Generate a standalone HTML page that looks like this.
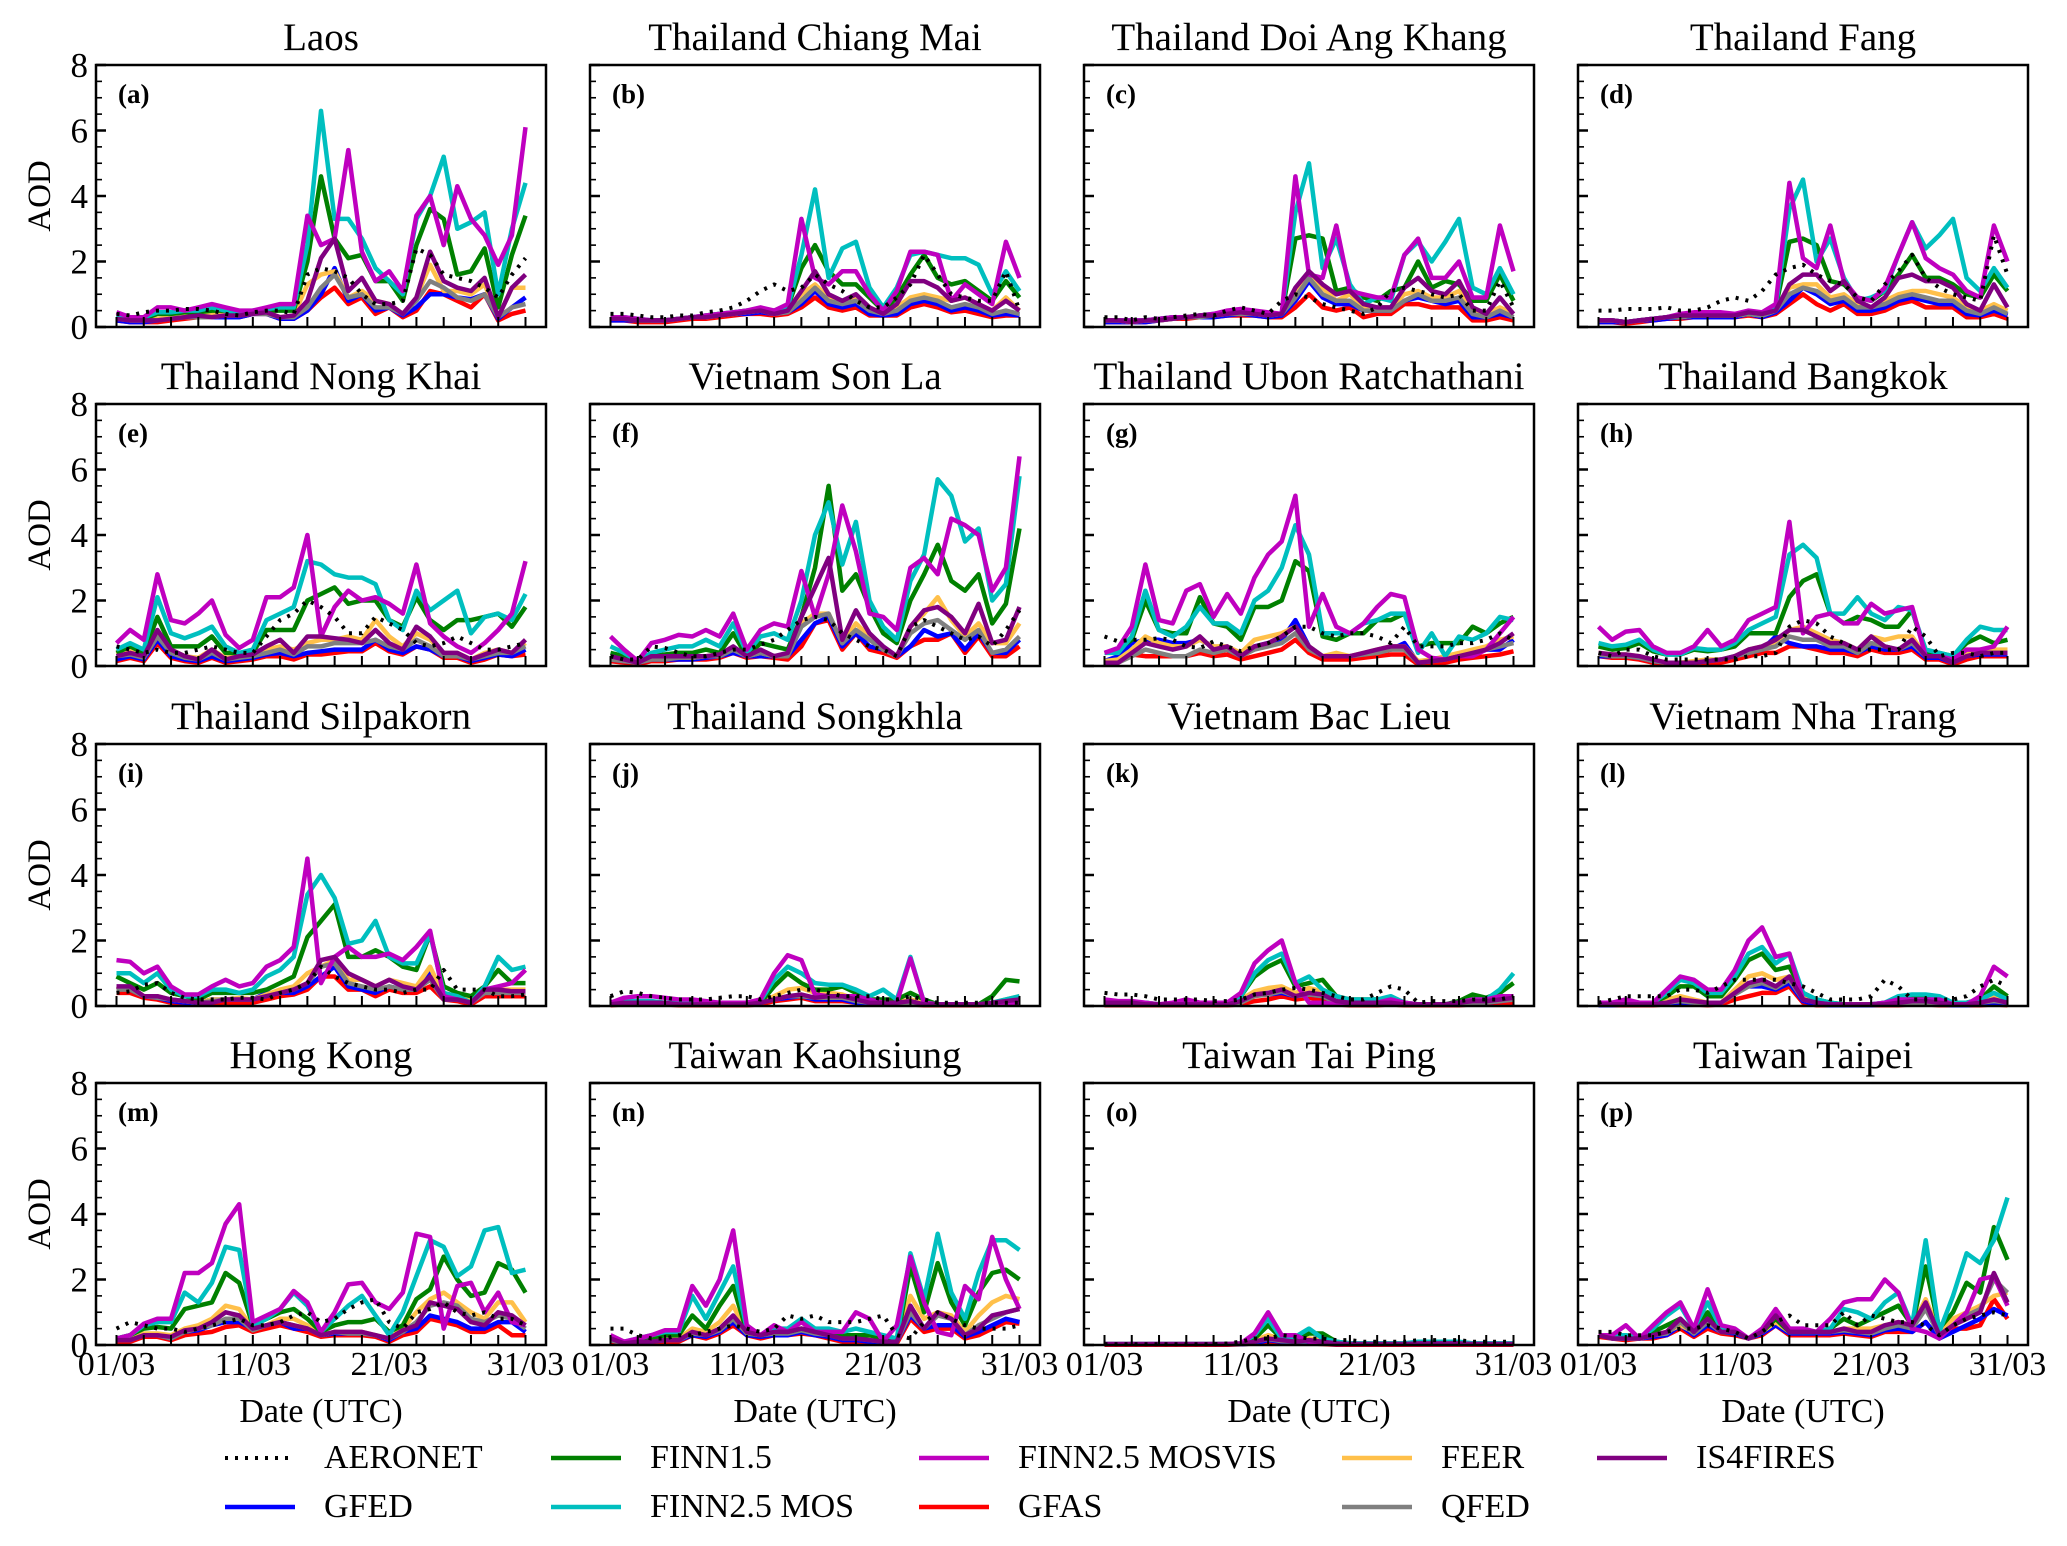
<!DOCTYPE html>
<html><head><meta charset="utf-8">
<style>
html,body{margin:0;padding:0;background:#fff;}
svg{display:block;font-family:"Liberation Serif","Times New Roman",serif;}
</style></head>
<body>
<svg id="fig" width="2067" height="1546" viewBox="0 0 2067 1546" xmlns="http://www.w3.org/2000/svg"></svg>
<script>
// ---------- data ----------
const panelTitles = ["Laos","Thailand Chiang Mai","Thailand Doi Ang Khang","Thailand Fang","Thailand Nong Khai","Vietnam Son La","Thailand Ubon Ratchathani","Thailand Bangkok","Thailand Silpakorn","Thailand Songkhla","Vietnam Bac Lieu","Vietnam Nha Trang","Hong Kong","Taiwan Kaohsiung","Taiwan Tai Ping","Taiwan Taipei"];
const panelLetters = ["(a)","(b)","(c)","(d)","(e)","(f)","(g)","(h)","(i)","(j)","(k)","(l)","(m)","(n)","(o)","(p)"];
const yTicks = [0,2,4,6,8];
const xTickDays = [1,11,21,31];
const xTickLabels = ["01/03","11/03","21/03","31/03"];

const aeronet = [
[0.4,0.35,0.45,0.5,0.5,0.55,0.55,0.5,0.4,0.35,0.45,0.5,0.5,0.4,1.6,1.8,1.7,1.5,1.0,0.7,0.7,0.8,2.4,2.2,1.6,1.5,1.4,1.2,0.9,1.6,2.1],
[0.4,0.4,0.35,0.3,0.3,0.35,0.35,0.45,0.5,0.6,0.8,1.1,1.3,1.1,1.2,1.6,1.3,1.1,0.8,0.6,0.6,0.9,1.3,2.2,1.6,1.0,0.9,0.8,0.8,1.7,0.5],
[0.3,0.3,0.2,0.3,0.25,0.3,0.35,0.4,0.35,0.5,0.6,0.5,0.4,0.8,1.0,0.9,0.7,0.6,0.5,0.4,0.6,1.1,1.2,1.1,1.0,0.9,1.0,0.5,0.5,1.4,0.6],
[0.5,0.5,0.55,0.55,0.55,0.6,0.5,0.5,0.6,0.8,0.9,0.8,1.1,1.6,1.8,1.9,1.6,1.4,1.3,0.9,0.8,1.3,1.7,2.2,1.5,1.2,1.0,0.9,0.8,2.8,1.6],
[0.6,0.5,0.4,0.5,0.4,0.4,0.5,0.6,0.5,0.4,0.4,0.9,1.4,1.6,2.0,1.8,1.5,1.0,1.0,1.5,1.3,1.1,0.7,0.6,0.7,0.9,0.7,0.5,0.5,0.6,0.7],
[0.3,0.2,0.2,0.6,0.55,0.4,0.3,0.3,0.4,0.5,0.5,0.65,0.8,1.1,1.4,1.5,1.4,1.0,0.8,0.6,0.5,0.3,1.2,1.4,1.2,1.0,0.8,0.9,0.6,1.1,1.7],
[0.9,0.75,0.8,0.8,0.85,0.8,0.6,0.55,0.75,0.6,0.45,0.6,0.7,0.9,1.2,1.2,1.0,0.9,1.0,1.0,0.9,0.7,1.2,0.6,0.6,0.6,0.7,0.7,0.8,1.0,0.8],
[0.4,0.3,0.5,0.5,0.3,0.2,0.2,0.2,0.2,0.2,0.2,0.3,0.3,0.4,1.2,1.4,1.3,0.9,0.7,0.5,0.5,0.5,0.5,1.2,0.9,0.3,0.4,0.4,0.3,0.4,0.4],
[0.4,0.45,0.65,0.7,0.4,0.25,0.2,0.2,0.2,0.25,0.25,0.2,0.4,0.5,0.7,1.2,0.9,0.7,0.6,0.5,0.5,0.4,0.5,0.5,1.1,0.5,0.5,0.5,0.3,0.3,0.35],
[0.3,0.45,0.4,0.3,0.25,0.2,0.2,0.2,0.25,0.3,0.3,0.2,0.3,0.4,0.5,0.5,0.4,0.3,0.3,0.3,0.2,0.2,0.3,0.2,0.1,0.1,0.1,0.1,0.1,0.1,0.1],
[0.4,0.35,0.35,0.3,0.2,0.2,0.2,0.2,0.15,0.15,0.2,0.35,0.4,0.5,0.55,0.5,0.4,0.3,0.2,0.2,0.4,0.6,0.5,0.1,0.15,0.15,0.15,0.2,0.2,0.2,0.3],
[0.1,0.2,0.3,0.3,0.3,0.3,0.5,0.5,0.4,0.6,0.8,0.8,0.8,0.8,0.7,0.6,0.4,0.2,0.2,0.2,0.3,0.8,0.6,0.2,0.2,0.2,0.2,0.3,0.6,0.8,0.6],
[0.5,0.7,0.6,0.5,0.5,0.4,0.5,0.6,0.7,0.8,0.6,0.6,0.7,0.9,1.0,0.7,0.8,1.1,1.3,1.4,0.7,0.5,1.0,1.1,1.3,1.0,0.9,1.0,0.8,0.8,0.6],
[0.5,0.5,0.3,0.2,0.2,0.3,0.3,0.4,0.5,0.6,0.5,0.4,0.5,0.9,0.8,0.9,0.7,0.7,0.7,0.8,0.9,0.3,0.2,0.7,1.0,0.8,0.6,0.5,0.5,0.5,0.6],
[0.02,0.02,0.02,0.02,0.02,0.02,0.02,0.02,0.02,0.05,0.1,0.2,0.2,0.3,0.25,0.2,0.2,0.15,0.15,0.1,0.1,0.1,0.1,0.15,0.15,0.15,0.15,0.1,0.1,0.1,0.1],
[0.4,0.4,0.3,0.3,0.3,0.4,0.5,0.5,0.6,0.5,0.4,0.2,0.4,0.7,0.9,0.6,0.6,0.6,1.0,0.6,0.9,0.8,0.7,0.7,0.6,0.3,0.6,0.8,0.9,1.0,0.9]];

const gfed = [
[0.2,0.15,0.15,0.2,0.25,0.3,0.3,0.3,0.3,0.3,0.4,0.4,0.25,0.25,0.5,1.0,1.8,0.8,1.0,0.5,0.6,0.35,0.6,1.0,1.0,0.9,0.85,1.0,0.25,0.6,0.9],
[0.2,0.2,0.2,0.2,0.2,0.25,0.3,0.3,0.35,0.4,0.4,0.45,0.4,0.45,0.7,1.1,0.7,0.6,0.7,0.4,0.35,0.4,0.7,0.8,0.7,0.5,0.6,0.5,0.35,0.4,0.35],
[0.15,0.15,0.15,0.15,0.2,0.25,0.3,0.3,0.3,0.35,0.4,0.35,0.3,0.35,0.8,1.4,0.9,0.7,0.7,0.5,0.5,0.5,0.8,0.9,0.8,0.7,0.8,0.3,0.3,0.4,0.3],
[0.15,0.15,0.15,0.2,0.2,0.25,0.3,0.3,0.3,0.3,0.3,0.4,0.3,0.45,0.8,1.2,1.0,0.7,0.8,0.5,0.5,0.6,0.8,0.9,0.8,0.7,0.7,0.4,0.35,0.5,0.35],
[0.2,0.3,0.2,0.8,0.3,0.2,0.15,0.3,0.15,0.2,0.25,0.35,0.4,0.3,0.4,0.45,0.5,0.5,0.5,0.8,0.5,0.4,0.6,0.5,0.3,0.3,0.15,0.25,0.35,0.3,0.5],
[0.2,0.15,0.1,0.2,0.2,0.2,0.2,0.25,0.3,0.4,0.3,0.3,0.3,0.3,0.8,1.3,1.5,0.6,1.0,0.6,0.5,0.3,0.6,1.1,0.9,1.0,0.5,1.0,0.4,0.4,0.8],
[0.15,0.3,0.7,0.8,0.8,0.7,0.7,0.8,0.6,0.5,0.3,0.6,0.7,0.8,1.4,0.6,0.3,0.3,0.3,0.35,0.45,0.5,0.7,0.1,0.15,0.2,0.3,0.35,0.5,0.5,0.8],
[0.3,0.3,0.3,0.25,0.15,0.1,0.1,0.1,0.15,0.2,0.3,0.4,0.5,0.9,0.7,0.6,0.6,0.5,0.5,0.4,0.6,0.5,0.5,0.6,0.25,0.25,0.1,0.3,0.35,0.35,0.35],
[0.6,0.5,0.3,0.25,0.15,0.1,0.1,0.2,0.2,0.2,0.2,0.4,0.4,0.4,0.6,0.9,1.2,0.6,0.5,0.4,0.6,0.5,0.5,1.0,0.2,0.2,0.1,0.4,0.4,0.4,0.4],
[0.05,0.1,0.1,0.1,0.05,0.05,0.05,0.05,0.05,0.05,0.05,0.1,0.2,0.25,0.3,0.2,0.2,0.2,0.1,0.05,0.05,0.05,0.1,0.05,0.05,0.05,0.05,0.05,0.05,0.1,0.15],
[0.05,0.05,0.05,0.05,0.05,0.05,0.05,0.05,0.05,0.05,0.1,0.4,0.35,0.4,0.3,0.35,0.3,0.1,0.05,0.05,0.05,0.1,0.05,0.05,0.05,0.05,0.05,0.1,0.1,0.15,0.2],
[0.02,0.02,0.05,0.05,0.05,0.1,0.1,0.1,0.05,0.1,0.4,0.6,0.6,0.5,0.7,0.15,0.05,0.02,0.02,0.02,0.02,0.05,0.05,0.1,0.1,0.05,0.02,0.02,0.05,0.1,0.05],
[0.15,0.15,0.3,0.3,0.2,0.4,0.45,0.6,0.7,0.7,0.5,0.6,0.7,0.5,0.5,0.3,0.35,0.35,0.35,0.3,0.15,0.4,0.5,0.9,0.8,0.7,0.5,0.5,0.7,0.7,0.4],
[0.15,0.05,0.1,0.1,0.15,0.15,0.3,0.25,0.4,0.7,0.3,0.25,0.3,0.3,0.4,0.3,0.25,0.15,0.15,0.1,0.05,0.1,0.9,0.5,0.6,0.6,0.25,0.4,0.6,0.8,0.7],
[0.02,0.02,0.02,0.02,0.02,0.02,0.02,0.02,0.02,0.02,0.02,0.05,0.15,0.1,0.1,0.1,0.05,0.02,0.02,0.02,0.02,0.02,0.02,0.03,0.03,0.03,0.03,0.02,0.02,0.02,0.02],
[0.3,0.2,0.2,0.2,0.25,0.3,0.6,0.3,0.6,0.4,0.35,0.2,0.35,0.6,0.35,0.35,0.35,0.35,0.4,0.35,0.3,0.45,0.5,0.4,0.7,0.2,0.4,0.6,0.8,1.1,0.9]];

const finn15 = [
[0.3,0.25,0.25,0.4,0.4,0.45,0.45,0.5,0.5,0.4,0.45,0.5,0.5,0.5,2.0,4.6,2.7,2.1,2.2,1.4,1.4,0.8,2.5,3.6,3.3,1.6,1.7,2.4,0.6,2.2,3.4],
[0.25,0.25,0.2,0.2,0.2,0.25,0.3,0.35,0.4,0.45,0.5,0.5,0.45,0.6,1.8,2.5,1.7,1.3,1.3,0.9,0.5,0.9,1.6,2.2,1.5,1.3,1.4,1.1,0.8,1.4,0.9],
[0.2,0.2,0.2,0.2,0.25,0.3,0.3,0.35,0.35,0.45,0.5,0.45,0.4,0.4,2.7,2.8,2.7,1.1,1.2,0.9,0.8,1.1,1.2,2.0,1.2,1.4,1.3,0.8,0.8,1.6,0.8],
[0.2,0.2,0.15,0.2,0.25,0.3,0.35,0.35,0.35,0.35,0.35,0.45,0.4,0.6,2.6,2.7,2.5,1.4,1.3,0.9,0.8,1.1,1.6,2.2,1.5,1.5,1.3,1.0,0.9,1.6,1.1],
[0.4,0.6,0.4,1.5,0.6,0.6,0.6,0.9,0.4,0.4,0.4,1.1,1.1,1.1,2.0,2.2,2.4,1.9,2.0,2.0,1.4,1.2,2.1,1.4,1.1,1.4,1.4,1.5,1.6,1.2,1.8],
[0.4,0.3,0.15,0.3,0.35,0.4,0.4,0.5,0.4,1.0,0.3,0.7,0.6,0.5,1.5,3.0,5.5,2.3,2.8,1.8,1.0,0.7,2.0,2.8,3.7,2.6,2.3,2.8,1.3,1.9,4.2],
[0.4,0.5,0.8,2.0,1.1,1.0,1.0,2.1,1.3,1.2,0.8,1.8,1.8,2.0,3.2,2.9,0.9,0.8,1.0,1.0,1.4,1.4,1.6,0.6,0.7,0.7,0.7,1.2,1.0,1.3,1.5],
[0.6,0.5,0.55,0.7,0.45,0.35,0.35,0.5,0.45,0.5,0.6,1.0,1.0,1.0,2.1,2.6,2.8,1.6,1.3,1.5,1.4,1.2,1.2,1.7,0.4,0.4,0.3,0.7,0.9,0.7,0.8],
[0.9,0.7,0.5,0.7,0.4,0.3,0.2,0.4,0.4,0.4,0.4,0.5,0.7,0.9,2.1,2.6,3.1,1.5,1.5,1.7,1.5,1.2,1.1,2.2,0.6,0.4,0.3,0.6,1.1,0.7,0.7],
[0.1,0.1,0.1,0.1,0.1,0.1,0.1,0.05,0.05,0.05,0.05,0.1,0.6,1.0,0.7,0.5,0.5,0.6,0.4,0.2,0.2,0.2,0.4,0.2,0.05,0.05,0.05,0.05,0.3,0.8,0.75],
[0.1,0.1,0.1,0.1,0.05,0.05,0.05,0.05,0.05,0.05,0.3,0.9,1.2,1.4,0.6,0.7,0.8,0.3,0.2,0.2,0.2,0.2,0.1,0.05,0.05,0.05,0.15,0.35,0.25,0.4,0.7],
[0.05,0.05,0.1,0.1,0.1,0.3,0.6,0.6,0.3,0.3,0.8,1.4,1.6,1.1,1.2,0.4,0.2,0.1,0.05,0.05,0.05,0.1,0.2,0.25,0.25,0.2,0.1,0.1,0.2,0.6,0.3],
[0.2,0.3,0.5,0.55,0.5,1.1,1.2,1.3,2.2,1.9,0.6,0.8,1.0,1.1,0.8,0.4,0.6,0.7,0.7,0.8,0.4,0.6,1.4,1.7,2.7,2.0,1.5,1.6,2.5,2.3,1.6],
[0.2,0.1,0.15,0.2,0.3,0.3,0.9,0.5,1.2,1.8,0.4,0.3,0.4,0.4,0.5,0.4,0.4,0.3,0.3,0.3,0.2,0.1,2.4,1.0,2.5,1.3,0.6,1.6,2.2,2.3,2.0],
[0.03,0.03,0.03,0.03,0.03,0.03,0.03,0.03,0.03,0.03,0.05,0.2,0.6,0.2,0.2,0.35,0.35,0.1,0.05,0.05,0.05,0.05,0.05,0.08,0.08,0.08,0.08,0.05,0.05,0.05,0.05],
[0.3,0.3,0.3,0.2,0.4,0.6,0.8,0.4,1.0,0.4,0.4,0.2,0.4,0.8,0.4,0.4,0.4,0.5,0.8,0.6,0.8,1.0,1.2,0.6,2.4,0.5,1.0,1.9,1.6,3.6,2.6]];

const finn25mos = [
[0.35,0.25,0.3,0.45,0.45,0.5,0.5,0.6,0.5,0.45,0.5,0.55,0.6,0.6,2.5,6.6,3.3,3.3,2.7,1.8,1.4,1.0,3.3,4.0,5.2,3.0,3.2,3.5,1.0,3.0,4.4],
[0.3,0.3,0.25,0.2,0.2,0.25,0.3,0.35,0.4,0.45,0.5,0.55,0.5,0.6,2.2,4.2,1.5,2.4,2.6,1.2,0.6,1.2,2.2,2.3,2.2,2.1,2.1,1.9,1.0,1.7,1.1],
[0.2,0.2,0.2,0.2,0.25,0.3,0.3,0.35,0.4,0.45,0.5,0.45,0.4,0.4,3.5,5.0,1.8,2.7,1.3,0.7,0.9,0.8,2.2,2.6,2.0,2.6,3.3,1.2,1.0,1.8,1.0],
[0.2,0.2,0.15,0.2,0.25,0.3,0.35,0.4,0.4,0.4,0.35,0.45,0.4,0.6,3.6,4.5,2.0,2.7,1.5,0.8,0.9,1.1,2.2,3.2,2.4,2.8,3.3,1.5,1.1,1.8,1.2],
[0.5,0.7,0.5,2.1,1.0,0.85,1.0,1.2,0.6,0.4,0.5,1.4,1.6,1.8,3.2,3.1,2.8,2.7,2.7,2.5,1.4,1.1,2.3,1.7,2.0,2.3,1.0,1.5,1.6,1.4,2.2],
[0.6,0.4,0.15,0.4,0.5,0.6,0.6,0.8,0.6,1.3,0.4,0.9,1.0,0.8,2.0,4.0,5.0,3.1,4.4,2.0,1.2,0.8,2.6,3.4,5.7,5.2,3.8,4.2,2.0,2.5,5.8],
[0.4,0.4,0.9,2.3,1.1,0.9,1.2,1.8,1.3,1.3,1.0,2.0,2.3,3.0,4.3,3.4,1.0,1.0,1.0,1.3,1.4,1.6,1.6,0.4,1.0,0.3,0.9,0.8,1.0,1.5,1.4],
[0.7,0.6,0.65,0.8,0.5,0.35,0.35,0.55,0.5,0.5,0.7,1.1,1.3,1.5,3.4,3.7,3.3,1.6,1.6,2.1,1.6,1.4,1.8,1.7,0.5,0.4,0.3,0.8,1.2,1.1,1.1],
[1.0,1.0,0.7,1.0,0.5,0.3,0.3,0.5,0.5,0.4,0.5,0.9,1.1,1.5,3.4,4.0,3.3,1.9,2.0,2.6,1.5,1.3,1.3,2.2,0.4,0.3,0.1,0.6,1.5,1.1,1.2],
[0.1,0.15,0.15,0.15,0.1,0.1,0.1,0.1,0.05,0.05,0.05,0.15,0.8,1.2,1.0,0.7,0.65,0.65,0.5,0.3,0.5,0.2,1.5,0.1,0.05,0.05,0.05,0.05,0.1,0.2,0.3],
[0.1,0.1,0.1,0.1,0.05,0.05,0.05,0.05,0.05,0.05,0.3,1.0,1.4,1.6,0.7,0.9,0.5,0.3,0.2,0.2,0.2,0.3,0.1,0.05,0.05,0.05,0.1,0.2,0.2,0.5,1.0],
[0.05,0.05,0.1,0.1,0.1,0.4,0.8,0.7,0.4,0.4,0.9,1.6,1.8,1.3,1.6,0.4,0.2,0.1,0.05,0.05,0.05,0.1,0.3,0.35,0.35,0.3,0.1,0.1,0.2,0.4,0.2],
[0.2,0.3,0.6,0.7,0.7,1.6,1.3,1.9,3.0,2.9,0.6,0.8,1.1,1.6,1.2,0.4,0.8,1.2,1.5,0.9,0.3,1.0,2.1,3.2,3.0,2.1,2.4,3.5,3.6,2.2,2.3],
[0.25,0.1,0.2,0.3,0.4,0.4,1.5,0.8,1.6,2.4,0.5,0.3,0.5,0.5,0.8,0.5,0.5,0.4,0.5,0.4,0.3,0.2,2.8,1.4,3.4,1.6,0.8,2.2,3.2,3.2,2.9],
[0.03,0.03,0.03,0.03,0.03,0.03,0.03,0.03,0.03,0.03,0.05,0.3,0.8,0.2,0.25,0.5,0.2,0.1,0.05,0.05,0.05,0.05,0.05,0.1,0.1,0.1,0.1,0.05,0.05,0.05,0.05],
[0.3,0.3,0.3,0.2,0.5,0.9,1.2,0.5,1.3,0.5,0.4,0.2,0.4,1.0,0.5,0.4,0.4,0.5,1.1,1.0,0.8,1.3,1.6,0.6,3.2,0.4,1.5,2.8,2.5,3.2,4.5]];

const finn25mosvis = [
[0.45,0.3,0.3,0.6,0.6,0.5,0.6,0.7,0.6,0.5,0.5,0.6,0.7,0.7,3.4,2.5,2.7,5.4,2.3,1.4,1.7,1.1,3.4,4.0,2.5,4.3,3.3,2.8,1.9,2.8,6.1],
[0.3,0.3,0.25,0.2,0.2,0.25,0.3,0.35,0.4,0.45,0.5,0.6,0.5,0.7,3.3,1.5,1.3,1.7,1.7,1.0,0.5,1.1,2.3,2.3,2.2,0.8,1.3,1.0,0.7,2.6,1.5],
[0.2,0.2,0.2,0.2,0.25,0.3,0.3,0.35,0.4,0.5,0.55,0.5,0.45,0.4,4.6,1.6,1.5,3.1,1.1,1.0,0.9,0.9,2.2,2.7,1.5,1.5,2.0,0.9,0.9,3.1,1.7],
[0.2,0.2,0.15,0.2,0.25,0.3,0.4,0.45,0.45,0.45,0.4,0.5,0.45,0.7,4.4,2.1,1.8,3.1,1.4,0.9,0.8,1.2,2.2,3.2,2.1,1.8,1.6,1.1,0.9,3.1,2.0],
[0.7,1.1,0.8,2.8,1.4,1.3,1.6,2.0,0.95,0.55,0.8,2.1,2.1,2.4,4.0,0.9,1.8,2.3,2.0,2.1,1.9,1.6,3.1,1.3,0.9,0.6,0.4,0.7,1.1,1.6,3.2],
[0.9,0.5,0.15,0.7,0.8,0.95,0.9,1.1,0.9,1.6,0.5,1.1,1.3,1.2,2.9,1.5,2.8,4.9,3.5,1.6,1.5,1.1,3.0,3.3,2.8,4.5,4.3,4.0,2.3,3.0,6.4],
[0.4,0.55,1.2,3.1,1.4,1.3,2.3,2.5,1.5,2.2,1.6,2.7,3.4,3.8,5.2,1.2,2.2,1.2,1.0,1.3,1.8,2.2,2.1,0.5,0.25,0.2,0.3,0.3,0.5,1.0,1.5],
[1.2,0.8,1.05,1.1,0.6,0.4,0.4,0.6,1.1,0.6,0.8,1.4,1.6,1.8,4.4,1.0,1.5,1.6,1.3,1.3,1.9,1.6,1.7,1.8,0.3,0.3,0.2,0.5,0.5,0.6,1.2],
[1.4,1.35,1.0,1.2,0.6,0.35,0.35,0.6,0.8,0.6,0.7,1.2,1.4,1.8,4.5,0.7,1.5,1.8,1.5,1.5,1.6,1.4,1.8,2.3,0.3,0.2,0.1,0.5,0.6,0.7,1.1],
[0.1,0.25,0.3,0.3,0.25,0.2,0.2,0.15,0.1,0.1,0.1,0.2,1.0,1.55,1.4,0.35,0.3,0.3,0.3,0.2,0.1,0.1,1.45,0.1,0.05,0.05,0.05,0.05,0.05,0.05,0.1],
[0.2,0.15,0.15,0.1,0.05,0.1,0.2,0.1,0.1,0.1,0.4,1.3,1.7,2.0,0.7,0.1,0.1,0.05,0.05,0.1,0.1,0.2,0.1,0.05,0.05,0.05,0.1,0.2,0.2,0.3,0.3],
[0.1,0.1,0.2,0.1,0.1,0.5,0.9,0.8,0.5,0.5,1.1,2.0,2.4,1.5,1.6,0.2,0.1,0.05,0.05,0.05,0.05,0.1,0.2,0.2,0.2,0.2,0.05,0.05,0.3,1.2,0.9],
[0.2,0.3,0.65,0.8,0.8,2.2,2.2,2.5,3.7,4.3,0.7,0.9,1.1,1.65,1.3,0.4,1.0,1.85,1.9,1.3,1.1,1.6,3.4,3.3,0.5,1.8,1.9,1.0,1.6,0.7,0.6],
[0.3,0.1,0.2,0.3,0.45,0.45,1.8,1.2,2.0,3.5,0.6,0.3,0.6,0.4,0.7,0.4,0.4,0.4,1.0,0.8,0.1,0.6,2.7,1.3,0.4,0.3,1.8,1.4,3.3,2.0,1.1],
[0.03,0.03,0.03,0.03,0.03,0.03,0.03,0.03,0.03,0.03,0.05,0.35,1.0,0.3,0.3,0.1,0.05,0.03,0.03,0.03,0.03,0.03,0.03,0.03,0.03,0.03,0.03,0.03,0.03,0.03,0.03],
[0.3,0.3,0.6,0.2,0.6,1.0,1.3,0.5,1.7,0.6,0.5,0.2,0.5,1.1,0.5,0.5,0.4,0.8,1.3,1.4,1.4,2.0,1.6,0.5,0.4,0.2,0.6,1.0,2.0,2.1,1.2]];

const gfas = [
[0.2,0.15,0.15,0.15,0.2,0.25,0.3,0.3,0.3,0.3,0.4,0.4,0.25,0.25,0.5,0.9,1.2,0.7,0.9,0.4,0.6,0.3,0.5,1.1,1.0,0.8,0.6,1.0,0.2,0.4,0.5],
[0.2,0.2,0.15,0.15,0.15,0.2,0.25,0.25,0.3,0.35,0.4,0.4,0.35,0.4,0.6,0.9,0.6,0.5,0.6,0.35,0.35,0.35,0.6,0.7,0.6,0.45,0.5,0.4,0.3,0.35,0.35],
[0.15,0.15,0.15,0.15,0.2,0.25,0.25,0.3,0.3,0.35,0.35,0.35,0.3,0.3,0.6,1.0,0.6,0.5,0.6,0.3,0.4,0.4,0.7,0.7,0.6,0.6,0.6,0.2,0.2,0.3,0.2],
[0.15,0.15,0.1,0.15,0.2,0.25,0.25,0.3,0.3,0.3,0.3,0.35,0.3,0.4,0.7,1.0,0.7,0.5,0.7,0.4,0.4,0.5,0.7,0.8,0.6,0.6,0.6,0.3,0.3,0.4,0.25],
[0.15,0.25,0.15,0.7,0.25,0.15,0.1,0.25,0.1,0.15,0.2,0.3,0.3,0.2,0.35,0.35,0.4,0.45,0.45,0.7,0.45,0.35,0.6,0.5,0.25,0.25,0.1,0.2,0.35,0.3,0.35],
[0.15,0.1,0.05,0.15,0.15,0.2,0.2,0.2,0.25,0.4,0.25,0.3,0.25,0.2,0.6,1.3,1.4,0.5,1.0,0.5,0.4,0.25,0.6,0.8,0.8,1.0,0.4,0.9,0.3,0.3,0.6],
[0.05,0.1,0.35,0.3,0.3,0.3,0.3,0.4,0.3,0.35,0.2,0.3,0.4,0.5,0.8,0.4,0.2,0.2,0.2,0.25,0.3,0.35,0.35,0.05,0.1,0.1,0.2,0.25,0.3,0.35,0.45],
[0.3,0.25,0.25,0.2,0.1,0.05,0.05,0.05,0.1,0.1,0.2,0.3,0.4,0.4,0.6,0.6,0.5,0.4,0.4,0.3,0.5,0.4,0.4,0.5,0.2,0.2,0.05,0.2,0.3,0.3,0.3],
[0.4,0.4,0.25,0.2,0.1,0.05,0.05,0.1,0.1,0.1,0.1,0.2,0.3,0.35,0.5,0.9,0.9,0.5,0.5,0.3,0.5,0.4,0.4,0.6,0.2,0.15,0.05,0.3,0.3,0.3,0.3],
[0.02,0.05,0.05,0.05,0.05,0.02,0.02,0.02,0.02,0.02,0.02,0.05,0.15,0.2,0.25,0.15,0.15,0.15,0.1,0.05,0.05,0.05,0.05,0.02,0.02,0.02,0.02,0.02,0.05,0.1,0.1],
[0.02,0.02,0.02,0.02,0.02,0.02,0.02,0.02,0.02,0.02,0.05,0.15,0.2,0.3,0.2,0.25,0.2,0.05,0.02,0.02,0.02,0.05,0.02,0.02,0.02,0.02,0.02,0.05,0.05,0.05,0.1],
[0.02,0.02,0.02,0.02,0.02,0.05,0.05,0.05,0.02,0.05,0.2,0.3,0.4,0.4,0.6,0.1,0.02,0.02,0.02,0.02,0.02,0.02,0.02,0.05,0.05,0.02,0.02,0.02,0.02,0.05,0.02],
[0.1,0.1,0.25,0.25,0.15,0.3,0.35,0.4,0.55,0.6,0.4,0.5,0.6,0.5,0.4,0.25,0.3,0.3,0.3,0.25,0.1,0.3,0.4,0.8,0.7,0.6,0.4,0.4,0.6,0.3,0.3],
[0.1,0.05,0.05,0.1,0.1,0.1,0.3,0.2,0.35,0.6,0.3,0.2,0.3,0.3,0.35,0.3,0.2,0.1,0.1,0.05,0.05,0.05,0.8,0.4,0.5,0.5,0.2,0.3,0.5,0.7,0.65],
[0.01,0.01,0.01,0.01,0.01,0.01,0.01,0.01,0.01,0.01,0.02,0.05,0.1,0.05,0.05,0.05,0.03,0.01,0.01,0.01,0.01,0.01,0.01,0.01,0.01,0.01,0.01,0.01,0.01,0.01,0.01],
[0.25,0.2,0.15,0.2,0.2,0.3,0.5,0.25,0.5,0.35,0.3,0.2,0.3,0.6,0.3,0.3,0.3,0.3,0.35,0.3,0.25,0.4,0.4,0.4,0.7,0.2,0.5,0.5,0.6,1.4,0.8]];

const feer = [
[0.3,0.2,0.2,0.25,0.3,0.35,0.35,0.4,0.4,0.4,0.45,0.45,0.3,0.35,1.3,1.6,1.7,0.9,1.1,0.8,0.7,0.4,0.9,1.9,1.1,1.1,1.0,1.3,0.3,1.2,1.2],
[0.3,0.3,0.2,0.2,0.2,0.25,0.3,0.3,0.35,0.4,0.45,0.5,0.4,0.5,1.0,1.3,0.9,0.8,0.9,0.6,0.4,0.6,0.9,1.0,0.9,0.8,0.9,0.7,0.5,0.9,0.5],
[0.2,0.2,0.15,0.2,0.2,0.25,0.3,0.35,0.35,0.4,0.45,0.4,0.35,0.4,1.1,1.6,1.2,0.8,1.0,0.6,0.6,0.6,1.0,1.1,0.9,0.9,1.1,0.5,0.4,0.6,0.4],
[0.2,0.2,0.15,0.2,0.25,0.3,0.3,0.35,0.35,0.35,0.35,0.4,0.35,0.5,1.2,1.3,1.3,0.9,1.0,0.7,0.6,0.8,1.0,1.1,1.1,1.0,0.9,0.6,0.5,0.7,0.5],
[0.35,0.5,0.3,1.0,0.5,0.3,0.25,0.5,0.25,0.3,0.3,0.5,0.6,0.5,0.7,0.8,0.8,0.9,0.8,1.4,0.9,0.6,1.0,0.8,0.4,0.4,0.2,0.4,0.5,0.4,0.7],
[0.25,0.2,0.1,0.25,0.25,0.25,0.25,0.3,0.35,0.5,0.3,0.4,0.3,0.35,1.3,1.6,1.6,0.7,1.3,0.9,0.5,0.3,1.2,1.6,2.1,1.4,0.9,1.3,0.7,0.7,1.3],
[0.15,0.2,0.5,0.9,0.7,0.6,0.6,0.8,0.6,0.6,0.4,0.8,0.9,1.0,1.2,0.6,0.3,0.4,0.3,0.4,0.5,0.6,0.6,0.15,0.2,0.3,0.4,0.5,0.6,0.8,0.9],
[0.4,0.35,0.35,0.3,0.2,0.1,0.1,0.15,0.2,0.2,0.3,0.5,0.6,0.7,1.1,1.2,1.0,0.8,0.7,0.5,0.9,0.8,0.9,0.9,0.3,0.3,0.15,0.4,0.5,0.5,0.5],
[0.5,0.6,0.3,0.3,0.2,0.15,0.1,0.2,0.2,0.25,0.2,0.35,0.5,0.6,1.0,1.2,1.4,0.8,0.8,0.6,0.8,0.7,0.6,1.2,0.3,0.3,0.2,0.4,0.5,0.5,0.5],
[0.05,0.1,0.1,0.1,0.1,0.05,0.05,0.05,0.05,0.05,0.05,0.1,0.3,0.5,0.55,0.4,0.4,0.35,0.2,0.15,0.1,0.1,0.2,0.1,0.05,0.05,0.05,0.05,0.1,0.2,0.3],
[0.1,0.1,0.1,0.05,0.05,0.05,0.05,0.05,0.05,0.05,0.2,0.45,0.55,0.6,0.4,0.55,0.45,0.2,0.15,0.1,0.1,0.15,0.1,0.05,0.05,0.05,0.1,0.15,0.15,0.2,0.3],
[0.05,0.05,0.05,0.05,0.05,0.2,0.3,0.2,0.1,0.1,0.5,0.9,1.0,0.8,0.9,0.3,0.1,0.05,0.05,0.05,0.05,0.05,0.1,0.1,0.1,0.1,0.05,0.05,0.1,0.3,0.1],
[0.2,0.2,0.35,0.35,0.3,0.5,0.6,0.8,1.2,1.1,0.5,0.6,0.8,0.8,0.6,0.3,0.4,0.4,0.4,0.3,0.2,0.5,1.0,1.4,1.6,1.3,1.0,0.8,1.3,1.3,0.7],
[0.2,0.1,0.1,0.15,0.2,0.2,0.5,0.4,0.7,1.2,0.4,0.3,0.4,0.4,0.5,0.4,0.4,0.3,0.3,0.2,0.1,0.1,1.5,0.8,1.0,0.9,0.4,0.9,1.3,1.5,1.4],
[0.03,0.03,0.03,0.03,0.03,0.03,0.03,0.03,0.03,0.03,0.05,0.15,0.3,0.2,0.15,0.2,0.15,0.05,0.03,0.03,0.03,0.03,0.03,0.05,0.05,0.05,0.05,0.03,0.03,0.03,0.03],
[0.3,0.25,0.2,0.2,0.3,0.4,0.6,0.4,0.7,0.4,0.4,0.2,0.4,0.7,0.4,0.4,0.4,0.4,0.5,0.5,0.5,0.6,0.7,0.6,1.4,0.4,0.8,1.0,1.2,1.5,1.6]];

const qfed = [
[0.25,0.2,0.2,0.2,0.25,0.3,0.3,0.3,0.35,0.35,0.4,0.4,0.3,0.3,0.6,1.2,1.6,0.9,1.0,0.6,0.6,0.4,0.8,1.4,1.2,0.9,0.8,1.0,0.3,0.6,0.7],
[0.25,0.25,0.2,0.2,0.2,0.25,0.3,0.3,0.35,0.4,0.45,0.5,0.4,0.45,0.8,1.2,0.8,0.7,0.8,0.5,0.4,0.5,0.8,0.9,0.8,0.6,0.7,0.6,0.4,0.5,0.4],
[0.2,0.2,0.15,0.2,0.2,0.25,0.3,0.3,0.35,0.4,0.4,0.4,0.35,0.4,0.9,1.5,1.0,0.8,0.8,0.5,0.5,0.5,0.8,1.0,0.8,0.8,0.9,0.4,0.3,0.5,0.3],
[0.2,0.2,0.15,0.2,0.25,0.3,0.3,0.35,0.35,0.35,0.35,0.4,0.35,0.5,1.0,1.2,1.1,0.8,0.9,0.6,0.6,0.7,0.9,1.0,0.9,0.8,0.8,0.5,0.4,0.6,0.4],
[0.3,0.35,0.25,0.9,0.4,0.25,0.2,0.4,0.2,0.25,0.3,0.4,0.5,0.35,0.6,0.6,0.7,0.7,0.7,0.8,0.6,0.5,0.8,0.6,0.3,0.3,0.2,0.3,0.4,0.4,0.6],
[0.2,0.15,0.1,0.2,0.2,0.25,0.25,0.3,0.3,0.5,0.3,0.4,0.3,0.3,1.2,1.5,1.6,0.7,1.1,0.8,0.5,0.3,1.0,1.3,1.4,1.1,0.8,1.1,0.4,0.5,0.9],
[0.1,0.1,0.3,0.5,0.4,0.3,0.3,0.5,0.4,0.5,0.3,0.5,0.6,0.7,1.0,0.5,0.3,0.3,0.3,0.35,0.4,0.5,0.5,0.1,0.15,0.2,0.3,0.35,0.5,0.6,0.7],
[0.35,0.3,0.3,0.25,0.15,0.1,0.1,0.1,0.15,0.2,0.3,0.4,0.5,0.6,0.9,0.8,0.8,0.6,0.6,0.4,0.7,0.6,0.5,0.7,0.3,0.3,0.1,0.3,0.4,0.4,0.4],
[0.5,0.5,0.3,0.25,0.2,0.15,0.1,0.15,0.2,0.2,0.2,0.3,0.4,0.5,0.7,1.2,1.3,0.7,0.6,0.5,0.6,0.5,0.5,0.8,0.2,0.2,0.1,0.4,0.4,0.4,0.4],
[0.05,0.1,0.1,0.1,0.05,0.05,0.05,0.05,0.05,0.05,0.05,0.1,0.2,0.3,0.3,0.25,0.25,0.25,0.15,0.1,0.1,0.1,0.1,0.05,0.05,0.05,0.05,0.05,0.1,0.15,0.2],
[0.05,0.05,0.05,0.05,0.05,0.05,0.05,0.05,0.05,0.05,0.1,0.3,0.35,0.45,0.3,0.35,0.3,0.1,0.1,0.1,0.1,0.1,0.05,0.05,0.05,0.05,0.1,0.1,0.1,0.15,0.2],
[0.05,0.05,0.05,0.05,0.05,0.1,0.15,0.1,0.1,0.1,0.35,0.6,0.7,0.55,0.8,0.2,0.1,0.05,0.05,0.05,0.05,0.05,0.1,0.1,0.1,0.1,0.05,0.05,0.1,0.15,0.1],
[0.15,0.15,0.3,0.3,0.2,0.4,0.5,0.6,0.8,0.8,0.45,0.6,0.7,0.6,0.5,0.3,0.4,0.35,0.35,0.3,0.2,0.4,0.7,1.2,1.3,1.2,0.8,0.7,0.9,0.8,0.5],
[0.15,0.05,0.1,0.1,0.15,0.15,0.35,0.3,0.45,0.8,0.35,0.3,0.35,0.35,0.45,0.35,0.3,0.2,0.2,0.15,0.1,0.1,1.0,0.5,0.9,0.8,0.3,0.6,0.8,1.0,1.1],
[0.02,0.02,0.02,0.02,0.02,0.02,0.02,0.02,0.02,0.02,0.03,0.1,0.18,0.12,0.1,0.12,0.1,0.05,0.02,0.02,0.02,0.02,0.02,0.04,0.04,0.04,0.04,0.02,0.02,0.02,0.02],
[0.3,0.2,0.2,0.2,0.3,0.35,0.7,0.35,0.7,0.4,0.4,0.2,0.4,0.8,0.4,0.4,0.4,0.4,0.45,0.4,0.35,0.5,0.6,0.5,1.1,0.3,0.6,0.9,1.1,2.0,1.6]];

const is4fires = [
[0.25,0.2,0.2,0.2,0.25,0.3,0.35,0.3,0.35,0.35,0.4,0.45,0.3,0.35,0.8,2.1,2.7,1.1,1.5,0.8,0.7,0.4,0.9,2.3,1.4,1.2,1.1,1.5,0.3,1.2,1.6],
[0.25,0.25,0.2,0.2,0.2,0.25,0.3,0.3,0.35,0.4,0.45,0.5,0.4,0.5,1.1,1.7,1.0,0.8,1.0,0.6,0.4,0.7,1.4,1.4,1.2,0.8,0.9,0.7,0.5,0.8,0.5],
[0.2,0.2,0.15,0.2,0.2,0.25,0.3,0.35,0.35,0.4,0.45,0.4,0.35,0.4,1.2,1.7,1.3,1.0,1.1,0.7,0.6,0.6,1.2,1.5,1.1,1.0,1.4,0.6,0.4,0.9,0.4],
[0.2,0.2,0.15,0.2,0.25,0.3,0.35,0.35,0.35,0.35,0.35,0.45,0.4,0.5,1.3,1.6,1.6,1.1,1.4,0.8,0.6,0.9,1.5,1.6,1.4,1.4,1.2,0.7,0.5,1.3,0.6],
[0.3,0.4,0.3,1.1,0.5,0.3,0.2,0.5,0.2,0.3,0.35,0.6,0.8,0.4,0.9,0.9,0.85,0.8,0.7,1.1,0.7,0.5,1.2,0.9,0.4,0.4,0.2,0.35,0.5,0.4,0.8],
[0.3,0.2,0.1,0.3,0.3,0.3,0.3,0.3,0.35,0.6,0.3,0.5,0.3,0.4,1.5,2.4,3.3,0.8,1.7,1.0,0.6,0.3,1.2,1.7,1.8,1.5,1.0,1.9,0.7,0.8,1.8],
[0.1,0.1,0.4,0.7,0.6,0.5,0.6,0.9,0.5,0.6,0.3,0.6,0.7,0.9,1.2,0.6,0.3,0.3,0.3,0.4,0.5,0.6,0.6,0.1,0.15,0.2,0.3,0.4,0.5,0.7,1.0],
[0.4,0.35,0.35,0.3,0.2,0.1,0.1,0.1,0.15,0.2,0.3,0.5,0.6,0.8,1.1,1.1,0.9,0.7,0.7,0.5,0.9,0.6,0.5,0.8,0.3,0.3,0.1,0.3,0.4,0.4,0.4],
[0.6,0.6,0.3,0.3,0.2,0.15,0.1,0.1,0.2,0.2,0.2,0.3,0.4,0.5,0.7,1.4,1.5,1.0,0.8,0.6,0.8,0.6,0.5,0.9,0.2,0.2,0.1,0.5,0.5,0.45,0.45],
[0.05,0.1,0.1,0.1,0.1,0.05,0.05,0.05,0.05,0.05,0.05,0.1,0.2,0.3,0.35,0.25,0.3,0.3,0.2,0.1,0.1,0.1,0.15,0.05,0.05,0.05,0.05,0.05,0.1,0.15,0.2],
[0.1,0.1,0.1,0.05,0.05,0.05,0.05,0.05,0.05,0.05,0.15,0.35,0.4,0.5,0.3,0.4,0.35,0.15,0.1,0.1,0.1,0.1,0.05,0.05,0.05,0.05,0.1,0.15,0.15,0.2,0.25],
[0.05,0.05,0.05,0.05,0.05,0.1,0.2,0.15,0.1,0.1,0.4,0.7,0.8,0.6,0.9,0.2,0.1,0.05,0.05,0.05,0.05,0.05,0.1,0.15,0.15,0.1,0.05,0.05,0.1,0.2,0.1],
[0.15,0.15,0.3,0.3,0.25,0.45,0.5,0.7,1.0,0.9,0.5,0.6,0.7,0.6,0.5,0.3,0.4,0.4,0.4,0.3,0.2,0.45,0.6,1.3,1.2,1.1,0.7,0.6,1.0,0.9,0.6],
[0.2,0.05,0.1,0.1,0.15,0.15,0.4,0.3,0.5,0.9,0.4,0.3,0.4,0.4,0.5,0.4,0.3,0.2,0.2,0.15,0.1,0.1,1.2,0.5,1.0,0.8,0.3,0.5,0.9,1.0,1.1],
[0.02,0.02,0.02,0.02,0.02,0.02,0.02,0.02,0.02,0.02,0.03,0.1,0.2,0.15,0.1,0.15,0.1,0.05,0.02,0.02,0.02,0.02,0.02,0.05,0.05,0.05,0.05,0.02,0.02,0.02,0.02],
[0.3,0.2,0.2,0.2,0.3,0.4,0.8,0.4,0.8,0.4,0.4,0.2,0.4,0.9,0.4,0.4,0.4,0.4,0.5,0.4,0.4,0.6,0.7,0.6,1.3,0.3,0.6,0.8,1.0,2.2,1.3]];

// ---------- layout ----------
const NS = "http://www.w3.org/2000/svg";
const svg = document.getElementById("fig");
const colX = [96, 590, 1084, 1578];
const rowY = [65, 404, 744, 1083];
const PW = 450, PH = 262, YMAX = 8;

function el(tag, attrs, parent) {
  const e = document.createElementNS(NS, tag);
  for (const k in attrs) e.setAttribute(k, attrs[k]);
  (parent || svg).appendChild(e);
  return e;
}
function xScale(p, day) { return colX[p % 4] + 20.5 + (day - 1) * (PW - 41) / 30; }
function yScale(p, v) { return rowY[Math.floor(p / 4)] + PH - v / YMAX * PH; }

const seriesList = [
  {key: "gfas", arr: gfas, color: "#ff0000"},
  {key: "gfed", arr: gfed, color: "#0000ff"},
  {key: "feer", arr: feer, color: "#ffc04a"},
  {key: "qfed", arr: qfed, color: "#808080"},
  {key: "finn15", arr: finn15, color: "#008000"},
  {key: "finn25-mos", arr: finn25mos, color: "#00bfbf"},
  {key: "finn25-mosvis", arr: finn25mosvis, color: "#bf00bf"},
  {key: "is4fires", arr: is4fires, color: "#800080"},
  {key: "aeronet", arr: aeronet, color: "#000000", dash: "3 7"}
];

for (let p = 0; p < 16; p++) {
  const L = colX[p % 4], T = rowY[Math.floor(p / 4)];
  const g = el("g", {});
  
  

  const title = el("text", {x: L + PW / 2, y: T - 15, "text-anchor": "middle", "font-size": 39, fill: "#000"}, g);
  title.textContent = panelTitles[p];
  
  

  // series lines
  for (const s of seriesList) {
    const vals = s.arr[p];
    let d = "";
    vals.forEach((v, i) => { d += (i ? "L" : "M") + xScale(p, i + 1).toFixed(1) + " " + yScale(p, v).toFixed(1); });
    const attrs = {d: d, fill: "none", stroke: s.color, "stroke-width": 4.5, "stroke-linejoin": "round"};
    if (s.dash) { attrs["stroke-dasharray"] = s.dash; attrs["stroke-width"] = 4; }
    const path = el("path", attrs, g);
    
    
  }

  // frame
  const frame = el("rect", {x: L, y: T, width: PW, height: PH, fill: "none", stroke: "#000", "stroke-width": 2.5}, g);
  
  

  // y ticks
  for (let v = 0; v <= YMAX; v += 0.5) {
    const major = v % 2 === 0;
    const y = yScale(p, v);
    const t = el("line", {x1: L, x2: L + (major ? 10 : 6), y1: y, y2: y, stroke: "#000", "stroke-width": major ? 2.5 : 1.6}, g);
    
    
  }
  // x ticks
  for (let day = 1; day <= 31; day += 2) {
    const x = xScale(p, day);
    const t = el("line", {x1: x, x2: x, y1: T + PH, y2: T + PH - 10, stroke: "#000", "stroke-width": 2}, g);
    
    
  }

  const letter = el("text", {x: L + 22, y: T + 38, "font-size": 27, "font-weight": "bold", fill: "#000"}, g);
  letter.textContent = panelLetters[p];
  
  

  if (p % 4 === 0) {
    yTicks.forEach(v => {
      const tl = el("text", {x: L - 8, y: yScale(p, v) + 12, "text-anchor": "end", "font-size": 35, fill: "#000"}, g);
      tl.textContent = v;
      
      
    });
    const yl = el("text", {x: 0, y: 0, "text-anchor": "middle", "font-size": 33, fill: "#000", transform: "translate(50," + (T + PH / 2) + ") rotate(-90)"}, g);
    yl.textContent = "AOD";
    
    
  }
  if (Math.floor(p / 4) === 3) {
    xTickDays.forEach((day, i) => {
      const tl = el("text", {x: xScale(p, day), y: T + PH + 30, "text-anchor": "middle", "font-size": 34, fill: "#000"}, g);
      tl.textContent = xTickLabels[i];
      
      
    });
    const xl = el("text", {x: L + PW / 2, y: 1422, "text-anchor": "middle", "font-size": 34, fill: "#000"}, g);
    xl.textContent = "Date (UTC)";
    
    
  }
}

// legend
const legendNames = ["AERONET","GFED","FINN1.5","FINN2.5 MOS","FINN2.5  MOSVIS","GFAS","FEER","QFED","IS4FIRES"];
const legendColors = ["#000000","#0000ff","#008000","#00bfbf","#bf00bf","#ff0000","#ffc04a","#808080","#800080"];
const legLineX = [225, 551, 919, 1342, 1597];
const legRowY = [1468, 1517];
const legend = el("g", {});


legendNames.forEach((name, i) => {
  const c = Math.floor(i / 2), r = i % 2;
  const x = legLineX[c], y = legRowY[r];
  const la = {x1: x, x2: x + 70, y1: y - 10, y2: y - 10, stroke: legendColors[i], "stroke-width": 4.5};
  if (i === 0) { la["stroke-dasharray"] = "3 7"; la["stroke-width"] = 4; }
  const ln = el("line", la, legend);
  
  
  const tx = el("text", {x: x + 99, y: y, "font-size": 34, fill: "#000", "xml:space": "preserve"}, legend);
  tx.textContent = name;
  
  
});
</script>
</body></html>
